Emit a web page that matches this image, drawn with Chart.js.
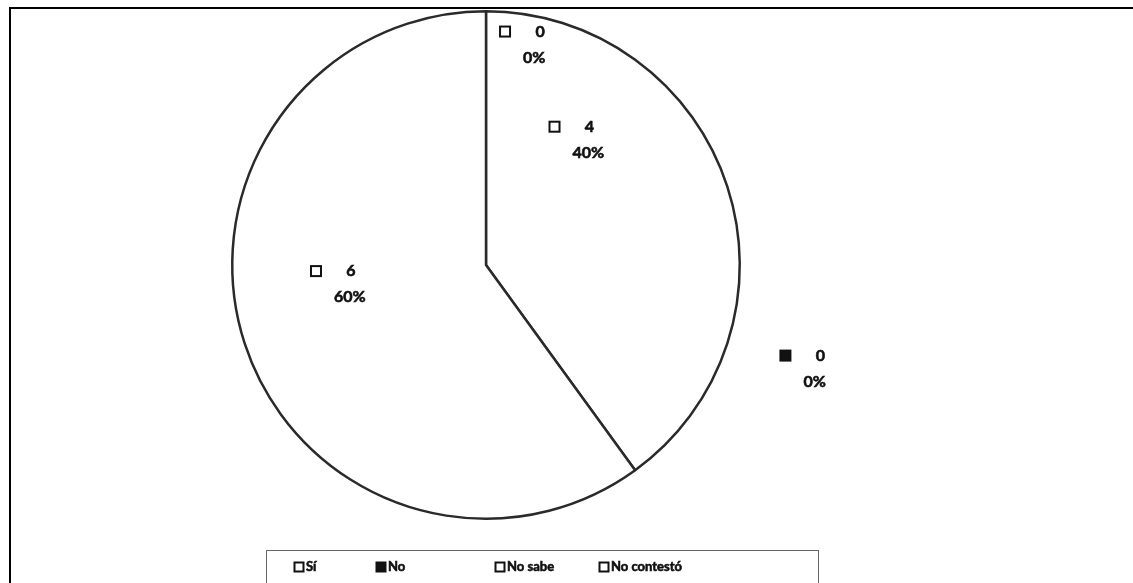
<!DOCTYPE html>
<html>
<head>
<meta charset="utf-8">
<script src="https://cdn.jsdelivr.net/npm/chart.js@4.4.1/dist/chart.umd.min.js"></script>
<style>
    html, body { margin: 0; padding: 0; background: #fff; }
    #wrap { position: relative; width: 1133px; height: 583px; overflow: hidden; }
</style>
</head>
<body>
<div id="wrap"><canvas id="pieChart"></canvas></div>
<script>
// categorías y valores
const categories = ["Sí", "No", "No sabe", "No contestó"];
const answers = [0, 0, 4, 6];
const sliceColors = ["#ffffff", "#111111", "#ffffff", "#ffffff"];

// dónde va cada etiqueta, relativo al centro (en radios del pastel)
const labelDX = [0.075, 1.18, 0.27, -0.67];
const labelDY = [-0.92, 0.357, -0.545, 0.024];
// posición x de cada entrada de la leyenda dentro del recuadro
const legendX = [33, 115, 234, 338];

const labelFont = "bold 16px Lato, 'Liberation Sans', sans-serif";
const legendFont = "bold 13px Lato, 'Liberation Sans', sans-serif";

function drawSquare(ctx, x, y, size, fill) {
    ctx.fillStyle = fill;
    ctx.fillRect(x - size / 2, y - size / 2, size, size);
    ctx.lineWidth = 2;
    ctx.strokeStyle = "#111";
    ctx.strokeRect(x - size / 2, y - size / 2, size, size);
}

// texto un poco más grueso, como en el escaneo
function heavyText(ctx, txt, x, y) {
    ctx.fillText(txt, x, y);
    ctx.lineWidth = 0.6;
    ctx.strokeStyle = "#111";
    ctx.strokeText(txt, x, y);
}

// marco de la hoja (solo arriba e izquierda se ven)
const framePlugin = {
    id: "frame",
    beforeDraw(chart) {
        const ctx = chart.ctx;
        ctx.save();
        ctx.fillStyle = "#fff";
        ctx.fillRect(0, 0, chart.width, chart.height);
        ctx.strokeStyle = "#000";
        ctx.lineWidth = 2;
        ctx.beginPath();
        ctx.moveTo(10, chart.height);
        ctx.lineTo(10, 8);
        ctx.lineTo(chart.width, 8);
        ctx.stroke();
        ctx.restore();
    }
};

// etiquetas de valor y porcentaje
const sliceLabels = {
    id: "sliceLabels",
    afterDatasetsDraw(chart) {
        const ctx = chart.ctx;
        const meta = chart.getDatasetMeta(0);
        const data = chart.data.datasets[0].data;
        const total = data.reduce((a, b) => a + b, 0);
        ctx.save();
        meta.data.forEach((arc, i) => {
            const r = arc.outerRadius;
            const x = arc.x + labelDX[i] * r;
            const y = arc.y + labelDY[i] * r;
            drawSquare(ctx, x, y, 10, sliceColors[i]);
            ctx.fillStyle = "#111";
            ctx.font = labelFont;
            ctx.textBaseline = "middle";
            ctx.textAlign = "center";
            heavyText(ctx, String(data[i]), x + 35, y);
            ctx.textAlign = "left";
            const pct = Math.round(data[i] / total * 100) + "%";
            heavyText(ctx, pct, x + 18, y + 26);
        });
        ctx.restore();
    }
};

// leyenda con recuadro, como en Excel
const boxLegend = {
    id: "boxLegend",
    afterDraw(chart) {
        const ctx = chart.ctx;
        const left = 266, top = 550, right = 818;
        ctx.save();
        ctx.strokeStyle = "#666";
        ctx.lineWidth = 1;
        ctx.strokeRect(left + 0.5, top + 0.5, right - left, chart.height);
        ctx.font = legendFont;
        ctx.textBaseline = "middle";
        ctx.textAlign = "left";
        chart.data.labels.forEach((lab, i) => {
            const x = left + legendX[i];
            const y = top + 17;
            drawSquare(ctx, x, y, 9, sliceColors[i]);
            ctx.fillStyle = "#111";
            heavyText(ctx, lab, x + 7, y);
        });
        ctx.restore();
    }
};

new Chart(document.getElementById("pieChart"), {
    type: "pie",
    data: {
        labels: categories,
        datasets: [{
            data: answers,
            backgroundColor: sliceColors,
            borderColor: "#2a2a2a",
            borderWidth: 2.5
        }]
    },
    options: {
        responsive: true,
        maintainAspectRatio: false,
        animation: false,
        layout: { padding: { left: 200, right: 361, top: 10, bottom: 63 } },
        plugins: {
            legend: { display: false },
            tooltip: { enabled: false }
        }
    },
    plugins: [framePlugin, sliceLabels, boxLegend]
});
</script>
</body>
</html>
